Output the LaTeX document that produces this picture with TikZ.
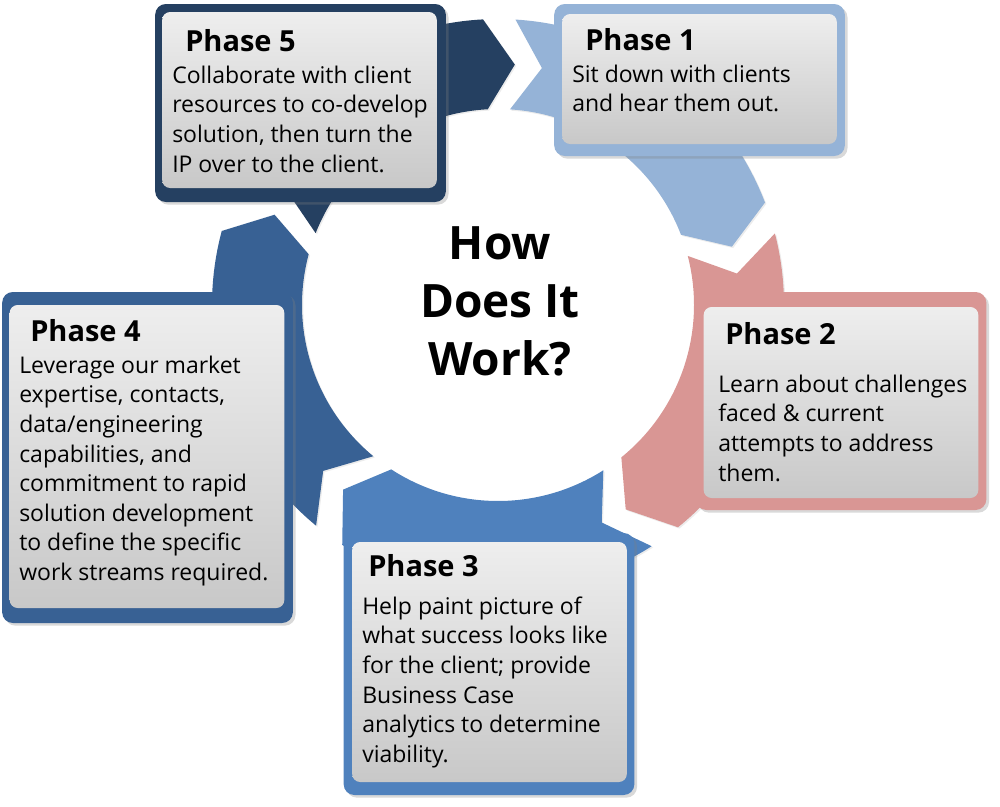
\documentclass[tikz,border=0pt]{standalone}
\usepackage{fontspec}
\setmainfont{Open Sans}
\usetikzlibrary{shadows}

\definecolor{phaseone}{RGB}{149,179,215}
\definecolor{phasetwo}{RGB}{217,150,148}
\definecolor{phasethree}{RGB}{79,129,189}
\definecolor{phasefour}{RGB}{56,97,148}
\definecolor{phasefive}{RGB}{37,64,97}
\definecolor{boxtop}{RGB}{238,238,238}
\definecolor{boxbot}{RGB}{200,200,200}

\begin{document}
\begin{tikzpicture}[x=0.75pt, y=-0.75pt,
    ringseg/.style={drop shadow={shadow xshift=1pt, shadow yshift=-1pt, opacity=.15}},
    phaseframe/.style={rectangle, rounded corners=8pt, minimum width=218pt, drop shadow={shadow xshift=2pt, shadow yshift=-2pt, opacity=.3}},
    panel/.style={rectangle, rounded corners=6pt, minimum width=206pt, top color=boxtop, bottom color=boxbot},
    heading/.style={anchor=base west, inner sep=0pt, font=\fontsize{21.75}{26}\selectfont\bfseries},
    phasebody/.style={anchor=north west, inner sep=0pt, align=left, font=\fontsize{17.25}{22.2}\selectfont}]

    \useasboundingbox (0,0) rectangle (1000,807);

    % ring arrows
    \begin{scope}[shift={(498,305)}, yscale=-1]
    \fill[phaseone, ringseg] (86.5:286) arc[start angle=86.5, end angle=21, radius=286] -- (14:241) -- (21:196) arc[start angle=21, end angle=86.5, radius=196] -- (79.5:241) -- cycle;
    \fill[phasetwo, ringseg] (14.5:286) arc[start angle=14.5, end angle=-51, radius=286] -- (-58:241) -- (-51:196) arc[start angle=-51, end angle=14.5, radius=196] -- (7.5:241) -- cycle;
    \fill[phasethree, ringseg] (-57.5:286) arc[start angle=-57.5, end angle=-123, radius=286] -- (-130:241) -- (-123:196) arc[start angle=-123, end angle=-57.5, radius=196] -- (-64.5:241) -- cycle;
    \fill[phasefour, ringseg] (-129.5:286) arc[start angle=-129.5, end angle=-195, radius=286] -- (-202:241) -- (-195:196) arc[start angle=-195, end angle=-129.5, radius=196] -- (-136.5:241) -- cycle;
    \fill[phasefive, ringseg] (-201.5:286) arc[start angle=-201.5, end angle=-267, radius=286] -- (-274:241) -- (-267:196) arc[start angle=-267, end angle=-201.5, radius=196] -- (-208.5:241) -- cycle;
    \end{scope}

    % centre
    \node[anchor=north, align=center, inner sep=0pt, font=\fontsize{34.5}{43.5}\selectfont\bfseries] (title) at (500,226) {How\\Does It\\Work?};

    % boxes
    \draw (699.5,80) node[phaseframe, fill=phaseone, minimum height=114pt] (p1frame) {};
    \draw (699.5,79) node[panel, minimum height=97.5pt] (p1box) {};
    \draw (841,401) node[phaseframe, fill=phasetwo, minimum height=163.5pt] (p2frame) {};
    \draw (841,402.5) node[panel, minimum height=143.25pt] (p2box) {};
    \draw (489,664) node[phaseframe, fill=phasethree, minimum height=196.5pt] (p3frame) {};
    \draw (489.5,662) node[panel, minimum height=180pt] (p3box) {};
    \draw (147.5,457.5) node[phaseframe, fill=phasefour, minimum height=248.25pt] (p4frame) {};
    \draw (147,456.5) node[panel, minimum height=227.25pt] (p4box) {};
    \draw (300.5,103) node[phaseframe, fill=phasefive, minimum height=148.5pt] (p5frame) {};
    \draw (299.5,100) node[panel, minimum height=132pt] (p5box) {};

    % texts
    \node[heading] (p1head) at (585,50) {Phase 1};
    \node[phasebody] (p1text) at (572,64.5) {Sit down with clients\\and hear them out.};
    \node[heading] (p2head) at (725,344) {Phase 2};
    \node[phasebody] (p2text) at (718,374.5) {Learn about challenges\\faced \& current\\attempts to address\\them.};
    \node[heading] (p3head) at (368,576) {Phase 3};
    \node[phasebody] (p3text) at (362,596.5) {Help paint picture of\\what success looks like\\for the client; provide\\Business Case\\analytics to determine\\viability.};
    \node[heading] (p4head) at (30,341) {Phase 4};
    \node[phasebody] (p4text) at (19,355.5) {Leverage our market\\expertise, contacts,\\data/engineering\\capabilities, and\\commitment to rapid\\solution development\\to define the specific\\work streams required.};
    \node[heading] (p5head) at (185,51) {Phase 5};
    \node[phasebody] (p5text) at (172,65.5) {Collaborate with client\\resources to co-develop\\solution, then turn the\\IP over to the client.};

\end{tikzpicture}
\end{document}
